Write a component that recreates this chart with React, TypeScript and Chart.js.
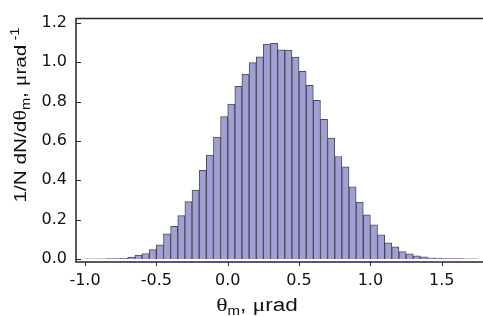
import React, { useEffect, useRef } from "react";
import { Chart, registerables } from "chart.js";

Chart.register(...registerables);

// Histogram bins: first bin starts at -1.0, width 0.05
const binStart = -1.0;
const binWidth = 0.05;
const density = [
  0.001, 0.001, 0.001, 0.002, 0.002, 0.004, 0.01, 0.02, 0.028, 0.048,
  0.072, 0.128, 0.166, 0.221, 0.292, 0.351, 0.451, 0.528, 0.62, 0.724,
  0.787, 0.878, 0.94, 0.998, 1.028, 1.093, 1.096, 1.063, 1.062, 1.026,
  0.954, 0.883, 0.806, 0.71, 0.615, 0.521, 0.469, 0.367, 0.29, 0.225,
  0.174, 0.123, 0.082, 0.062, 0.038, 0.026, 0.016, 0.011, 0.006, 0.005,
  0.003, 0.002, 0.002, 0.001, 0.001,
];
const xTicks = [-1.0, -0.5, 0.0, 0.5, 1.0, 1.5];
const yTicks = [0.0, 0.2, 0.4, 0.6, 0.8, 1.0, 1.2];

const FONT = "'Liberation Sans', Arial, sans-serif";
const TICKFONT = "'DejaVu Sans', sans-serif";
const SERIF = "'Liberation Serif', 'Times New Roman', serif";

type Part = { t: string; font: string; dy: number };

const xTitle: Part[] = [
  { t: "\u03B8", font: `19px ${SERIF}`, dy: 0 },
  { t: "m", font: `12px ${FONT}`, dy: 4 },
  { t: ", ", font: `18px ${FONT}`, dy: 0 },
  { t: "\u03BC", font: `19px ${SERIF}`, dy: 0 },
  { t: "rad", font: `18px ${FONT}`, dy: 0 },
];
const yTitle: Part[] = [
  { t: "1/N dN/d", font: `17px ${FONT}`, dy: 0 },
  { t: "\u03B8", font: `18px ${SERIF}`, dy: 0 },
  { t: "m", font: `12px ${FONT}`, dy: 4 },
  { t: ", ", font: `17px ${FONT}`, dy: 0 },
  { t: "\u03BC", font: `18px ${SERIF}`, dy: 0 },
  { t: "rad", font: `17px ${FONT}`, dy: 0 },
  { t: " -1", font: `12px ${FONT}`, dy: -7 },
];

function drawRich(ctx: CanvasRenderingContext2D, parts: Part[], cx: number, baseY: number, sx: number) {
  let total = 0;
  for (const p of parts) {
    ctx.font = p.font;
    total += ctx.measureText(p.t).width;
  }
  ctx.save();
  ctx.translate(cx, baseY);
  ctx.scale(sx, 1);
  let x = -total / 2;
  ctx.textAlign = "left";
  ctx.textBaseline = "alphabetic";
  for (const p of parts) {
    ctx.font = p.font;
    ctx.fillText(p.t, x, p.dy);
    x += ctx.measureText(p.t).width;
  }
  ctx.restore();
}

const framePlugin = {
  id: "frame",
  afterDraw(chart: any) {
    const { ctx, chartArea: a, scales } = chart;
    ctx.save();
    ctx.strokeStyle = "#262626";
    ctx.lineWidth = 1.5;
    ctx.beginPath();
    ctx.moveTo(a.right, a.top);
    ctx.lineTo(a.left, a.top);
    ctx.lineTo(a.left, a.bottom);
    ctx.lineTo(a.right, a.bottom);
    ctx.stroke();
    ctx.lineWidth = 1;
    ctx.beginPath();
    for (const v of yTicks) {
      const y = Math.round(scales.y.getPixelForValue(v)) + 0.5;
      ctx.moveTo(a.left, y);
      ctx.lineTo(a.left + 5, y);
    }
    for (const v of xTicks) {
      const x = Math.round(scales.x.getPixelForValue(v)) + 0.5;
      ctx.moveTo(x, a.bottom);
      ctx.lineTo(x, a.bottom + 4);
    }
    ctx.stroke();
    ctx.fillStyle = "#111";
    drawRich(ctx, xTitle, 257, 311, 1.25);
    ctx.translate(26, 115);
    ctx.rotate(-Math.PI / 2);
    drawRich(ctx, yTitle, 0, 0, 1.22);
    ctx.restore();
  },
};

export default function App() {
  const ref = useRef<HTMLCanvasElement | null>(null);
  useEffect(() => {
    document.body.style.margin = "0";
    const data = density.map((y, i) => ({ x: binStart + binWidth * i + binWidth / 2, y }));
    const chart = new Chart(ref.current as HTMLCanvasElement, {
      type: "bar",
      data: {
        datasets: [
          {
            data: data as any,
            backgroundColor: "#a0a0d2",
            borderColor: "rgba(55,55,80,0.9)",
            borderWidth: 1,
            barPercentage: 1,
            categoryPercentage: 1,
          },
        ],
      },
      options: {
        animation: false,
        responsive: false,
        maintainAspectRatio: false,
        layout: { padding: { top: 11, right: 0, left: 0, bottom: 0 } },
        plugins: { legend: { display: false }, tooltip: { enabled: false } },
        scales: {
          x: {
            type: "linear",
            offset: false,
            min: -1.063,
            max: 1.789,
            grid: { display: false, drawTicks: false },
            border: { display: false },
            afterBuildTicks: (s: any) => {
              s.ticks = xTicks.map((v) => ({ value: v }));
            },
            afterFit: (s: any) => {
              s.height = 54;
            },
            ticks: {
              padding: 9,
              color: "#111",
              font: { family: TICKFONT, size: 16 },
              callback: (v: any) => Number(v).toFixed(1),
            },
          },
          y: {
            min: -0.015,
            max: 1.222,
            grid: { display: false, drawTicks: false },
            border: { display: false },
            afterBuildTicks: (s: any) => {
              s.ticks = yTicks.map((v) => ({ value: v }));
            },
            afterFit: (s: any) => {
              s.width = 76;
            },
            ticks: {
              padding: 9,
              color: "#111",
              font: { family: TICKFONT, size: 16 },
              callback: (v: any) => Number(v).toFixed(1),
            },
          },
        },
      },
      plugins: [framePlugin],
    });
    return () => chart.destroy();
  }, []);
  return (
    <div style={{ position: "relative", width: 483, height: 316 }}>
      <canvas ref={ref} width={483} height={316} style={{ display: "block" }} />
    </div>
  );
}
